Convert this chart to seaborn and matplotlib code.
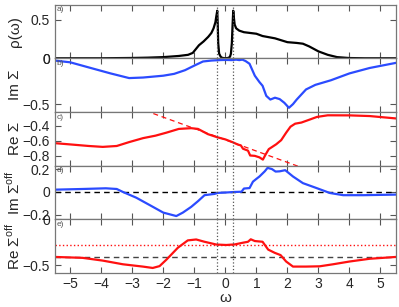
import seaborn as sns
import matplotlib.pyplot as plt
from matplotlib.ticker import FuncFormatter

# a) density of states
w_dos = [-5.5, -4.0, -3.0, -2.5, -2.0, -1.5, -1.2, -1.05, -0.95, -0.85, -0.7, -0.55,
         -0.45, -0.38, -0.32, -0.29, -0.26, -0.245, -0.23, -0.2, -0.15, -0.1, 0.0,
         0.1, 0.15, 0.18, 0.21, 0.235, 0.255, 0.27, 0.3, 0.35, 0.45, 0.6, 0.8, 1.0,
         1.2, 1.4, 1.6, 1.8, 2.0, 2.3, 2.5, 2.7, 3.0, 3.3, 3.6, 4.0, 4.5, 5.5]
rho = [0.0, 0.0, 0.004, 0.008, 0.015, 0.03, 0.045, 0.07, 0.12, 0.17, 0.22, 0.28,
       0.33, 0.39, 0.47, 0.55, 0.62, 0.45, 0.2, 0.06, 0.02, 0.005, 0.0,
       0.005, 0.02, 0.06, 0.2, 0.45, 0.62, 0.55, 0.44, 0.39, 0.36, 0.34, 0.33, 0.32,
       0.29, 0.275, 0.26, 0.235, 0.21, 0.2, 0.19, 0.155, 0.09, 0.045, 0.015, 0.003, 0.0, 0.0]

# b) Im Sigma
w_im = [-5.5, -5.0, -4.4, -3.7, -3.1, -2.65, -2.0, -1.65, -1.3, -1.0, -0.72, -0.45,
        -0.2, 0.0, 0.2, 0.35, 0.45, 0.55, 0.65, 0.78, 0.95, 1.1, 1.2, 1.32, 1.45,
        1.6, 1.75, 1.9, 2.05, 2.18, 2.3, 2.6, 2.9, 3.4, 4.0, 4.65, 5.5]
im_sig = [-0.025, -0.044, -0.1, -0.165, -0.216, -0.21, -0.19, -0.17, -0.13, -0.08, -0.035, -0.025,
          -0.02, -0.018, -0.02, -0.015, -0.02, -0.015, -0.03, -0.06, -0.19, -0.26, -0.3, -0.41, -0.45,
          -0.43, -0.445, -0.485, -0.54, -0.5, -0.45, -0.34, -0.29, -0.24, -0.165, -0.106, -0.05]

# c) Re Sigma
w_re = [-5.5, -5.0, -4.4, -3.95, -3.5, -3.1, -2.65, -2.25, -1.9, -1.5, -1.1, -0.88,
        -0.56, -0.27, 0.0, 0.25, 0.41, 0.5, 0.57, 0.73, 0.8, 0.95, 1.1, 1.21, 1.3,
        1.4, 1.64, 1.8, 1.96, 2.1, 2.25, 2.45, 2.72, 2.95, 3.3, 4.0, 4.65, 5.5]
re_sig = [-0.63, -0.647, -0.668, -0.68, -0.668, -0.616, -0.563, -0.53, -0.49, -0.44, -0.43, -0.44,
          -0.51, -0.55, -0.58, -0.62, -0.65, -0.66, -0.705, -0.73, -0.795, -0.8, -0.82, -0.85, -0.78,
          -0.71, -0.645, -0.59, -0.49, -0.41, -0.37, -0.355, -0.315, -0.28, -0.258, -0.259, -0.268, -0.3]
w_lin = [-5.5, 5.5]
re_lin = [0.245, -1.415]

# d) Im Sigma off
w_imo = [-5.5, -4.6, -3.85, -3.5, -3.3, -2.87, -2.44, -2.0, -1.58, -1.37, -1.1, -0.88,
         -0.67, -0.35, -0.24, 0.0, 0.3, 0.52, 0.6, 0.78, 0.89, 1.0, 1.1, 1.27, 1.36,
         1.5, 1.62, 1.75, 1.93, 2.18, 2.5, 2.94, 3.37, 3.8, 4.45, 5.5]
im_off = [0.02, 0.026, 0.032, 0.026, 0.0, -0.05, -0.114, -0.18, -0.21, -0.18, -0.13, -0.08,
          -0.028, -0.017, -0.008, -0.005, 0.0, 0.002, 0.03, 0.034, 0.09, 0.114, 0.135, 0.18, 0.21,
          0.2, 0.178, 0.18, 0.19, 0.135, 0.077, 0.034, -0.009, -0.028, -0.028, -0.023]

# e) Re Sigma off
w_reo = [-5.5, -4.6, -3.95, -3.3, -2.66, -2.34, -2.12, -1.9, -1.53, -1.21, -0.94, -0.67,
         -0.29, 0.03, 0.3, 0.57, 0.73, 0.82, 0.95, 1.2, 1.38, 1.59, 1.78, 1.96, 2.18,
         2.6, 3.04, 3.47, 4.0, 4.65, 5.5]
re_off = [-0.41, -0.42, -0.45, -0.49, -0.515, -0.53, -0.51, -0.44, -0.31, -0.23, -0.22, -0.245,
          -0.275, -0.28, -0.274, -0.255, -0.245, -0.218, -0.237, -0.245, -0.33, -0.365, -0.39, -0.46, -0.515,
          -0.515, -0.512, -0.49, -0.46, -0.43, -0.41]

peaks = [-0.26, 0.255]
xticks = [-5, -4, -3, -2, -1, 0, 1, 2, 3, 4, 5]

sns.set_style("ticks")
plt.rcParams['font.family'] = ['Liberation Sans', 'DejaVu Sans']
plt.rcParams['mathtext.fontset'] = 'custom'
plt.rcParams['mathtext.rm'] = 'Liberation Sans'

fig, axes = plt.subplots(5, 1, figsize=(3.99, 3.07), dpi=100, sharex=True)
fig.subplots_adjust(left=0.137, right=0.9925, top=0.985, bottom=0.111, hspace=0)

blue = '#2b4bff'
red = '#ff1010'

sns.lineplot(x=w_dos, y=rho, ax=axes[0], color='k', lw=1.6)
sns.lineplot(x=w_im, y=im_sig, ax=axes[1], color=blue, lw=1.6)
sns.lineplot(x=w_re, y=re_sig, ax=axes[2], color=red, lw=1.6)
sns.lineplot(x=w_lin, y=re_lin, ax=axes[2], color=red, lw=0.9, linestyle=(0, (4, 3)))
axes[3].axhline(0, color='k', lw=1.0, ls=(0, (4, 3)))
sns.lineplot(x=w_imo, y=im_off, ax=axes[3], color=blue, lw=1.6)
axes[4].axhline(-0.28, color=red, lw=1.0, ls=':')
axes[4].axhline(-0.41, color='#444444', lw=1.0, ls=(0, (4, 3)))
sns.lineplot(x=w_reo, y=re_off, ax=axes[4], color=red, lw=1.6)

ylims = [(0, 0.7), (-0.585, 0), (-0.93, -0.213), (-0.238, 0.23), (-0.584, 0)]
yticks = [[0, 0.5], [-0.5, 0], [-0.8, -0.6, -0.4], [-0.2, 0, 0.2], [-0.5, 0]]
ylabels = [u"ρ(ω)", u"Im Σ", u"Re Σ", u"Im Σ$^{\\mathrm{off}}$", u"Re Σ$^{\\mathrm{off}}$"]
tags = ["a)", "b)", "c)", "d)", "e)"]

fmt = FuncFormatter(lambda v, p: ('%g' % v).replace('-', u'\u2212'))

for ax, yl, yt, lab, tag in zip(axes, ylims, yticks, ylabels, tags):
    for p in peaks:
        ax.axvline(p, color='#555555', lw=0.9, ls=':')
    ax.set_xlim(-5.5, 5.5)
    ax.set_ylim(*yl)
    ax.set_yticks(yt)
    ax.yaxis.set_major_formatter(fmt)
    ax.set_ylabel(lab, fontsize=11)
    ax.yaxis.set_label_coords(-0.095, 0.5)
    ax.tick_params(direction='in', top=True, right=True, length=4, width=0.8,
                   color='#555555', labelsize=10)
    for s in ax.spines.values():
        s.set_color('#777777')
        s.set_linewidth(0.9)
    ax.text(0.005, 0.97, tag, transform=ax.transAxes, fontsize=6, color='#555555',
            ha='left', va='top')

axes[4].set_xticks(xticks)
axes[4].xaxis.set_major_formatter(fmt)
axes[4].tick_params(axis='x', pad=3)
axes[4].set_xlabel(u"ω", fontsize=11, labelpad=0)

plt.savefig("out.png", dpi=100)
